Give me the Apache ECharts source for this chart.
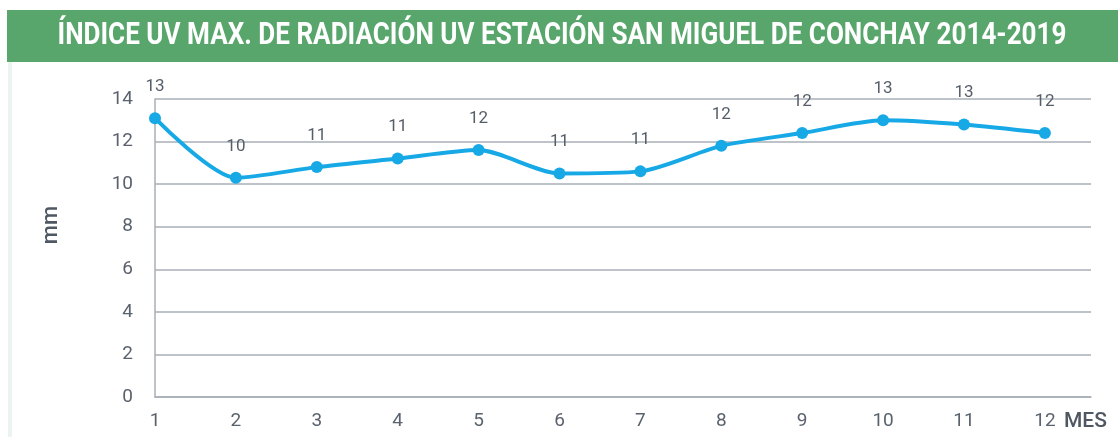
<!DOCTYPE html>
<html>
<head>
<meta charset="utf-8">
<script src="https://cdn.jsdelivr.net/npm/echarts@6/dist/echarts.min.js"></script>
<style>
html,body{margin:0;padding:0;background:#fff;}
#c{width:1118px;height:437px;}
</style>
</head>
<body>
<div id="c"></div>
<script>
var titleText = 'ÍNDICE UV MAX. DE RADIACIÓN UV ESTACIÓN SAN MIGUEL DE CONCHAY 2014-2019';
var months = [1, 2, 3, 4, 5, 6, 7, 8, 9, 10, 11, 12];
var uvValues = [13.1, 10.3, 10.8, 11.2, 11.6, 10.5, 10.6, 11.8, 12.4, 13.0, 12.8, 12.4];
var uvLabels = ['13', '10', '11', '11', '12', '11', '11', '12', '12', '13', '13', '12'];
var yTicks = [0, 2, 4, 6, 8, 10, 12, 14];
var yName = 'mm';
var xName = 'MES';

var FONT = "Roboto, sans-serif";
var chart = echarts.init(document.getElementById('c'), null, {renderer: 'canvas'});
var seriesData = months.map(function (m, i) { return [m, uvValues[i]]; });

// fit the condensed title into the banner width
var titleFontSize = 31;
var titleFont = 'bold ' + titleFontSize + 'px Roboto';
var ctx = document.createElement('canvas').getContext('2d');
ctx.font = titleFont;
var naturalW = ctx.measureText(titleText).width;
var titleScaleX = 1009 / naturalW;

chart.setOption({
  animation: false,
  backgroundColor: '#ffffff',
  graphic: [
    {type: 'rect', z: -1, shape: {x: 7, y: 10, width: 1111, height: 52}, style: {fill: '#58a66b'}},
    {type: 'rect', z: -1, shape: {x: 8, y: 62, width: 4, height: 375}, style: {fill: '#edf3ee'}},
    {
      type: 'text', z: 10,
      x: 562, y: 36,
      scaleX: titleScaleX, scaleY: 1,
      style: {
        text: titleText,
        fill: '#ffffff',
        font: titleFont,
        textAlign: 'center',
        textVerticalAlign: 'middle'
      }
    }
  ],
  grid: {left: 155, right: 27, top: 99, bottom: 40},
  xAxis: {
    type: 'value',
    min: 1,
    max: 12.57,
    interval: 1,
    name: xName,
    nameLocation: 'end',
    nameGap: -27,
    nameTextStyle: {color: '#4f5862', fontFamily: FONT, fontSize: 21, fontWeight: 500, verticalAlign: 'top', padding: [14, 0, 0, 0]},
    axisLine: {show: true, lineStyle: {color: '#a7afb7', width: 1.5}},
    axisTick: {show: false},
    splitLine: {show: false},
    axisLabel: {
      color: '#5a636d', fontFamily: FONT, fontSize: 19, margin: 15,
      showMaxLabel: false,
      formatter: function (v) { return Number.isInteger(v) ? String(v) : ''; }
    }
  },
  yAxis: {
    type: 'value',
    min: 0,
    max: 14,
    interval: 2,
    name: yName,
    nameLocation: 'middle',
    nameGap: 93,
    nameRotate: 90,
    nameTextStyle: {color: '#4f5862', fontFamily: FONT, fontSize: 22, fontWeight: 500, padding: [0, 0, 0, 46]},
    axisLine: {show: true, lineStyle: {color: '#a7afb7', width: 1.5}},
    axisTick: {show: false},
    splitLine: {show: true, lineStyle: {color: '#a7afb7', width: 1.5}},
    axisLabel: {color: '#5a636d', fontFamily: FONT, fontSize: 19, margin: 22}
  },
  series: [{
    type: 'line',
    data: seriesData,
    smooth: 0.25,
    symbol: 'circle',
    symbolSize: 12,
    lineStyle: {color: '#17a8e6', width: 4},
    itemStyle: {color: '#17a8e6'},
    label: {
      show: true,
      position: 'top',
      distance: 17,
      color: '#555e68',
      fontFamily: FONT,
      fontSize: 17,
      formatter: function (p) { return uvLabels[p.dataIndex]; }
    }
  }]
});
</script>
</body>
</html>
